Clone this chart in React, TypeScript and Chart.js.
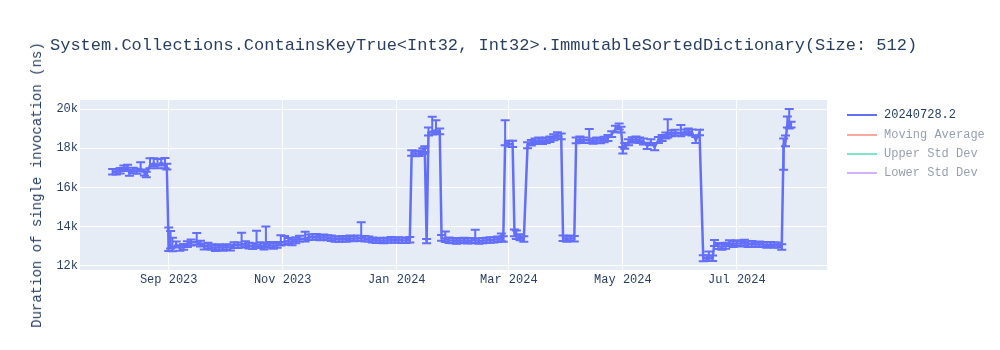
import React, { useEffect, useRef } from "react";
import { Chart, registerables } from "chart.js";

Chart.register(...registerables);

const TITLE = "System.Collections.ContainsKeyTrue<Int32, Int32>.ImmutableSortedDictionary(Size: 512)";
const Y_TITLE = "Duration of single invocation (ns)";
const SERIES_NAME = "20240728.2";

const dates = [
  "2023-08-02", "2023-08-04", "2023-08-06", "2023-08-08", "2023-08-10", "2023-08-11", "2023-08-13", "2023-08-15",
  "2023-08-17", "2023-08-19", "2023-08-20", "2023-08-22", "2023-08-24", "2023-08-26", "2023-08-28", "2023-08-30",
  "2023-08-31", "2023-09-01", "2023-09-02", "2023-09-03", "2023-09-05", "2023-09-07", "2023-09-09", "2023-09-11",
  "2023-09-13", "2023-09-16", "2023-09-18", "2023-09-20", "2023-09-22", "2023-09-24", "2023-09-26", "2023-09-28",
  "2023-09-30", "2023-10-02", "2023-10-04", "2023-10-06", "2023-10-08", "2023-10-10", "2023-10-12", "2023-10-14",
  "2023-10-16", "2023-10-18", "2023-10-20", "2023-10-22", "2023-10-23", "2023-10-25", "2023-10-27", "2023-10-29",
  "2023-10-31", "2023-11-02", "2023-11-04", "2023-11-06", "2023-11-08", "2023-11-10", "2023-11-13", "2023-11-15",
  "2023-11-17", "2023-11-19", "2023-11-21", "2023-11-23", "2023-11-25", "2023-11-27", "2023-11-29", "2023-12-01",
  "2023-12-03", "2023-12-05", "2023-12-07", "2023-12-09", "2023-12-11", "2023-12-13", "2023-12-15", "2023-12-17",
  "2023-12-19", "2023-12-21", "2023-12-23", "2023-12-25", "2023-12-27", "2023-12-29", "2023-12-31", "2024-01-02",
  "2024-01-04", "2024-01-06", "2024-01-08", "2024-01-09", "2024-01-11", "2024-01-13", "2024-01-15", "2024-01-16",
  "2024-01-17", "2024-01-18", "2024-01-20", "2024-01-22", "2024-01-24", "2024-01-25", "2024-01-27", "2024-01-29",
  "2024-01-31", "2024-02-02", "2024-02-04", "2024-02-06", "2024-02-08", "2024-02-10", "2024-02-12", "2024-02-14",
  "2024-02-16", "2024-02-18", "2024-02-20", "2024-02-22", "2024-02-24", "2024-02-26", "2024-02-27", "2024-02-28",
  "2024-03-01", "2024-03-03", "2024-03-04", "2024-03-05", "2024-03-07", "2024-03-09", "2024-03-11", "2024-03-13",
  "2024-03-15", "2024-03-17", "2024-03-19", "2024-03-21", "2024-03-23", "2024-03-25", "2024-03-27", "2024-03-29",
  "2024-03-30", "2024-04-01", "2024-04-03", "2024-04-05", "2024-04-06", "2024-04-08", "2024-04-10", "2024-04-13",
  "2024-04-15", "2024-04-17", "2024-04-19", "2024-04-21", "2024-04-23", "2024-04-25", "2024-04-27", "2024-04-29",
  "2024-04-30", "2024-05-01", "2024-05-02", "2024-05-04", "2024-05-06", "2024-05-08", "2024-05-10", "2024-05-12",
  "2024-05-14", "2024-05-16", "2024-05-18", "2024-05-20", "2024-05-22", "2024-05-24", "2024-05-25", "2024-05-27",
  "2024-05-29", "2024-06-01", "2024-06-03", "2024-06-05", "2024-06-07", "2024-06-09", "2024-06-11", "2024-06-13",
  "2024-06-15", "2024-06-16", "2024-06-18", "2024-06-19", "2024-06-21", "2024-06-23", "2024-06-25", "2024-06-27",
  "2024-06-29", "2024-07-01", "2024-07-03", "2024-07-05", "2024-07-07", "2024-07-09", "2024-07-11", "2024-07-13",
  "2024-07-15", "2024-07-17", "2024-07-19", "2024-07-21", "2024-07-23", "2024-07-25", "2024-07-26", "2024-07-27",
  "2024-07-28", "2024-07-29", "2024-07-30",
];

const values = [
  16800, 16780, 16850, 16980, 17020, 16720, 16860, 16820,
  16950, 16760, 16660, 17120, 17230, 17120, 17260, 17120,
  17060, 12900, 13020, 12880, 13080, 12900, 12960, 13100,
  13180, 13220, 13120, 12980, 13020, 12950, 12900, 12960,
  12900, 12960, 12920, 13050, 13040, 13080, 13100, 13020,
  13000, 13100, 13040, 12980, 13100, 13060, 13000, 13060,
  13180, 13220, 13260, 13200, 13300, 13380, 13380, 13450,
  13460, 13480, 13430, 13450, 13430, 13400, 13360, 13350,
  13380, 13350, 13400, 13380, 13400, 13420, 13380, 13360,
  13310, 13290, 13300, 13280, 13300, 13320, 13300, 13320,
  13300, 13290, 13330, 17750, 17720, 17740, 17850, 17950,
  13220, 18800, 18850, 18920, 18860, 13420, 13360, 13300,
  13280, 13250, 13280, 13300, 13260, 13280, 13320, 13260,
  13280, 13300, 13310, 13320, 13350, 13400, 13360, 18300,
  18230, 18220, 13650, 13520, 13450, 13360, 18150, 18280,
  18350, 18400, 18350, 18400, 18460, 18560, 18660, 18600,
  13400, 13360, 13400, 13380, 18400, 18450, 18400, 18420,
  18360, 18400, 18380, 18440, 18520, 18720, 18960, 19100,
  18950, 17900, 18120, 18300, 18420, 18450, 18400, 18340,
  18120, 18300, 18060, 18420, 18520, 18650, 18700, 18760,
  18800, 18760, 18820, 18860, 18800, 18420, 18800, 12380,
  12380, 12420, 12380, 13150, 13000, 12960, 13020, 13150,
  13100, 13150, 13120, 13180, 13100, 13120, 13080, 13100,
  13080, 13060, 13080, 13050, 13060, 12960, 18200, 18350,
  19200, 19150, 19200,
];

const errorsUp = [
  140, 130, 140, 140, 130, 130, 140, 130,
  330, 150, 140, 370, 250, 330, 200, 380,
  150, 1050, 750, 550, 160, 150, 150, 150,
  160, 450, 150, 150, 150, 140, 150, 140,
  140, 140, 150, 150, 140, 600, 150, 150,
  150, 680, 160, 150, 900, 150, 150, 150,
  380, 300, 150, 150, 150, 150, 350, 140,
  140, 140, 130, 140, 130, 140, 140, 130,
  140, 130, 140, 130, 140, 800, 140, 130,
  130, 130, 130, 130, 130, 140, 130, 130,
  140, 130, 140, 140, 130, 140, 150, 150,
  140, 250, 750, 500, 150, 150, 380, 140,
  130, 130, 140, 130, 130, 140, 520, 140,
  130, 130, 140, 130, 140, 250, 140, 1120,
  150, 160, 200, 280, 150, 140, 150, 140,
  140, 140, 140, 140, 140, 150, 150, 150,
  140, 140, 140, 140, 150, 140, 140, 560,
  130, 140, 130, 140, 150, 150, 180, 160,
  150, 160, 150, 150, 140, 140, 140, 150,
  160, 150, 200, 150, 150, 150, 780, 150,
  140, 420, 140, 140, 150, 150, 140, 150,
  140, 300, 140, 160, 160, 150, 150, 150,
  150, 150, 140, 150, 140, 140, 130, 140,
  130, 140, 130, 140, 130, 140, 300, 300,
  420, 850, 150,
];

const errorsDown = [
  140, 130, 140, 140, 130, 130, 140, 130,
  140, 150, 140, 150, 140, 150, 140, 150,
  150, 150, 140, 140, 150, 140, 150, 140,
  150, 150, 140, 150, 140, 140, 150, 140,
  140, 140, 150, 150, 140, 150, 150, 140,
  150, 150, 140, 150, 150, 150, 140, 150,
  150, 150, 140, 150, 150, 150, 140, 140,
  140, 140, 130, 140, 130, 140, 140, 130,
  140, 130, 140, 130, 140, 140, 140, 130,
  130, 130, 130, 130, 130, 140, 130, 130,
  140, 130, 140, 140, 130, 140, 150, 150,
  80, 150, 150, 150, 150, 150, 150, 140,
  130, 130, 140, 130, 130, 140, 150, 140,
  130, 130, 140, 130, 140, 150, 140, 150,
  150, 160, 150, 160, 150, 140, 150, 140,
  140, 140, 140, 140, 140, 150, 150, 150,
  140, 140, 140, 140, 150, 140, 140, 150,
  130, 140, 130, 140, 150, 150, 150, 150,
  150, 170, 150, 150, 140, 140, 140, 150,
  160, 150, 160, 150, 150, 150, 150, 150,
  140, 150, 140, 140, 150, 150, 140, 150,
  140, 150, 140, 150, 150, 150, 150, 150,
  150, 150, 140, 150, 140, 140, 130, 140,
  130, 140, 130, 140, 130, 140, 1300, 250,
  150, 150, 150,
];

const xTickDates = ["2023-09-01", "2023-11-01", "2024-01-01", "2024-03-01", "2024-05-01", "2024-07-01"];
const xTickLabels = ["Sep 2023", "Nov 2023", "Jan 2024", "Mar 2024", "May 2024", "Jul 2024"];
const yTickValues = [12000, 14000, 16000, 18000, 20000];
const yTickLabels = ["12k", "14k", "16k", "18k", "20k"];
const xRange = ["2023-07-15T13:00:00Z", "2024-08-18T05:00:00Z"];
const yRange = [11780, 20460];

const legendNames = ["20240728.2", "Moving Average", "Upper Std Dev", "Lower Std Dev"];
const legendColors = ["#636efa", "#EF553B", "#00CC96", "#AB63FA"];
const legendActive = [true, false, false, false];

const FONT = '"Liberation Mono", "Courier New", monospace';
const TEXT_COLOR = "#2a3f5f";
const LINE_COLOR = "#636efa";

const toMs = (s: string) => Date.parse(s.length === 10 ? s + "T00:00:00Z" : s);

const bgPlugin = {
  id: "plotBg",
  beforeDraw(chart: any) {
    const { ctx, chartArea } = chart;
    if (!chartArea) return;
    ctx.save();
    ctx.fillStyle = "#E5ECF6";
    ctx.fillRect(chartArea.left, chartArea.top, chartArea.right - chartArea.left, chartArea.bottom - chartArea.top);
    ctx.restore();
  },
};

const errorBarPlugin = {
  id: "errorBars",
  beforeDatasetsDraw(chart: any) {
    const { ctx, chartArea } = chart;
    const xs = chart.scales.x;
    const ys = chart.scales.y;
    const ds = chart.data.datasets[0];
    ctx.save();
    ctx.beginPath();
    ctx.rect(chartArea.left, chartArea.top, chartArea.right - chartArea.left, chartArea.bottom - chartArea.top);
    ctx.clip();
    ctx.strokeStyle = LINE_COLOR;
    ctx.lineWidth = 2;
    ds.data.forEach((p: any, i: number) => {
      const x = xs.getPixelForValue(p.x);
      const y1 = ys.getPixelForValue(p.y + errorsUp[i]);
      const y2 = ys.getPixelForValue(p.y - errorsDown[i]);
      ctx.beginPath();
      ctx.moveTo(x, y1);
      ctx.lineTo(x, y2);
      ctx.moveTo(x - 4.5, y1);
      ctx.lineTo(x + 4.5, y1);
      ctx.moveTo(x - 4.5, y2);
      ctx.lineTo(x + 4.5, y2);
      ctx.stroke();
    });
    ctx.restore();
  },
};

export default function App() {
  const canvasRef = useRef<HTMLCanvasElement | null>(null);

  useEffect(() => {
    if (!canvasRef.current) return;
    const points = dates.map((d, i) => ({ x: toMs(d), y: values[i] }));
    const xTicks = xTickDates.map(toMs);
    const chart = new Chart(canvasRef.current, {
      type: "line",
      data: {
        datasets: [
          {
            label: SERIES_NAME,
            data: points,
            borderColor: LINE_COLOR,
            backgroundColor: LINE_COLOR,
            borderWidth: 2.5,
            pointRadius: 0,
            tension: 0,
            fill: false,
          },
        ],
      },
      options: {
        responsive: false,
        animation: false,
        devicePixelRatio: 1,
        layout: { padding: { left: 0, right: 173, top: 100, bottom: 0 } },
        plugins: {
          legend: { display: false },
          tooltip: { enabled: false },
          title: { display: false },
        },
        scales: {
          x: {
            type: "linear",
            min: toMs(xRange[0]),
            max: toMs(xRange[1]),
            afterBuildTicks: (s: any) => {
              s.ticks = xTicks.map((v) => ({ value: v }));
            },
            afterFit: (s: any) => {
              s.height = 80;
            },
            ticks: {
              autoSkip: false,
              maxRotation: 0,
              padding: 3,
              color: TEXT_COLOR,
              font: { family: FONT, size: 12 },
              callback: (_v: any, i: number) => xTickLabels[i],
            },
            grid: { color: "#ffffff", lineWidth: 1, drawTicks: false },
            border: { display: false },
          },
          y: {
            type: "linear",
            min: yRange[0],
            max: yRange[1],
            afterBuildTicks: (s: any) => {
              s.ticks = yTickValues.map((v) => ({ value: v }));
            },
            afterFit: (s: any) => {
              s.width = 80;
            },
            ticks: {
              padding: 2,
              color: TEXT_COLOR,
              font: { family: FONT, size: 12 },
              callback: (_v: any, i: number) => yTickLabels[i],
            },
            grid: { color: "#ffffff", lineWidth: 1, drawTicks: false },
            border: { display: false },
          },
        },
      },
      plugins: [bgPlugin, errorBarPlugin],
    });
    return () => chart.destroy();
  }, []);

  const legendTops = [115.3, 134.5, 153.8, 173];

  return (
    <div style={{ position: "absolute", left: 0, top: 0, width: 1000, height: 350, background: "#fff" }}>
      <canvas ref={canvasRef} width={1000} height={350} style={{ display: "block", width: 1000, height: 350 }} />
      <div
        style={{
          position: "absolute",
          left: 50,
          top: 36,
          lineHeight: "20px",
          fontFamily: FONT,
          fontSize: 17,
          color: TEXT_COLOR,
          whiteSpace: "pre",
        }}
      >
        {TITLE}
      </div>
      <div
        style={{
          position: "absolute",
          left: 37,
          top: 185,
          transform: "translate(-50%, -50%) rotate(-90deg)",
          lineHeight: "16px",
          fontFamily: FONT,
          fontSize: 14,
          color: TEXT_COLOR,
          whiteSpace: "pre",
        }}
      >
        {Y_TITLE}
      </div>
      {legendNames.map((name, i) => (
        <div
          key={name}
          style={{
            position: "absolute",
            left: 847,
            top: legendTops[i] - 10,
            height: 20,
            width: 150,
            opacity: legendActive[i] ? 1 : 0.5,
          }}
        >
          <div
            style={{
              position: "absolute",
              left: 0,
              top: 9,
              width: 30,
              height: 2,
              background: legendColors[i],
            }}
          />
          <div
            style={{
              position: "absolute",
              left: 37,
              top: 0,
              lineHeight: "20px",
              fontFamily: FONT,
              fontSize: 12,
              color: TEXT_COLOR,
              whiteSpace: "pre",
            }}
          >
            {name}
          </div>
        </div>
      ))}
    </div>
  );
}
